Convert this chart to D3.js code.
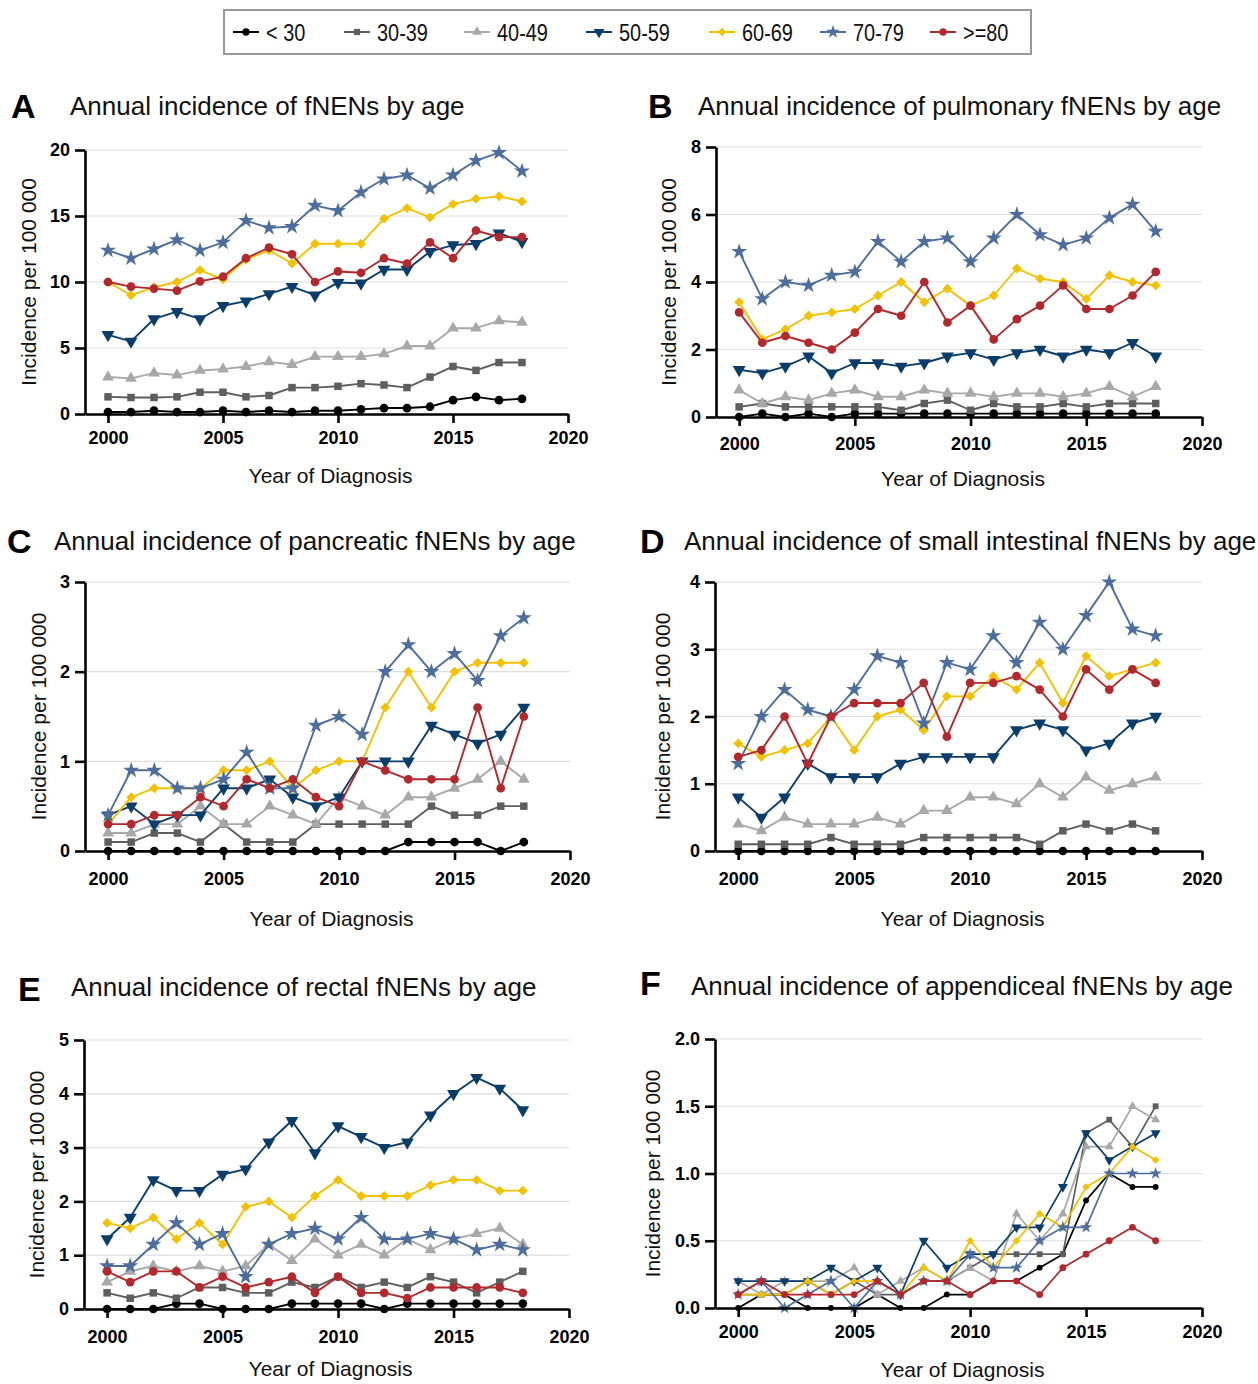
<!DOCTYPE html>
<html><head><meta charset="utf-8">
<script src="https://cdn.jsdelivr.net/npm/d3@7"></script>
<style>body{margin:0;background:#fff} svg{display:block;font-family:"Liberation Sans",Arial,sans-serif}</style>
</head><body>
<svg id="c" width="1258" height="1384"></svg>
<script>
// ---------- data ----------
const years = [2000,2001,2002,2003,2004,2005,2006,2007,2008,2009,2010,2011,2012,2013,2014,2015,2016,2017,2018];
const groups = ["< 30","30-39","40-49","50-59","60-69","70-79",">=80"];
const xTicks = [2000,2005,2010,2015,2020];

// Panel A: all fNENs
const valuesA = [
  [0.15,0.15,0.25,0.15,0.15,0.25,0.15,0.25,0.15,0.25,0.25,0.35,0.45,0.45,0.55,1.05,1.3,1.05,1.15],
  [1.3,1.25,1.25,1.3,1.65,1.65,1.3,1.4,2.0,2.0,2.1,2.3,2.2,2.0,2.8,3.6,3.3,3.9,3.9],
  [2.8,2.7,3.1,2.95,3.3,3.4,3.6,3.95,3.75,4.35,4.35,4.35,4.55,5.15,5.15,6.5,6.5,7.05,6.95],
  [6.0,5.5,7.2,7.75,7.2,8.2,8.55,9.1,9.65,9.0,9.95,9.9,10.95,10.95,12.3,12.8,12.9,13.7,13.05],
  [10.0,9.0,9.6,10.0,10.9,10.2,11.7,12.4,11.4,12.9,12.9,12.9,14.8,15.6,14.9,15.9,16.3,16.5,16.1],
  [12.4,11.8,12.5,13.2,12.4,13.0,14.65,14.1,14.2,15.8,15.4,16.8,17.8,18.1,17.1,18.1,19.2,19.8,18.4],
  [10.0,9.65,9.5,9.35,10.05,10.4,11.8,12.6,12.1,10.0,10.8,10.7,11.8,11.4,13.0,11.8,13.9,13.4,13.4]
];
// Panel B: pulmonary
const valuesB = [
  [0,0.1,0,0.1,0,0.1,0.1,0.1,0.1,0.1,0.1,0.1,0.1,0.1,0.1,0.1,0.1,0.1,0.1],
  [0.3,0.4,0.3,0.3,0.3,0.3,0.3,0.2,0.4,0.5,0.2,0.4,0.3,0.3,0.4,0.3,0.4,0.4,0.4],
  [0.8,0.4,0.6,0.5,0.7,0.8,0.6,0.6,0.8,0.7,0.7,0.6,0.7,0.7,0.6,0.7,0.9,0.6,0.9],
  [1.4,1.3,1.5,1.8,1.3,1.6,1.6,1.5,1.6,1.8,1.9,1.7,1.9,2.0,1.8,2.0,1.9,2.2,1.8],
  [3.4,2.3,2.6,3.0,3.1,3.2,3.6,4.0,3.4,3.8,3.3,3.6,4.4,4.1,4.0,3.5,4.2,4.0,3.9],
  [4.9,3.5,4.0,3.9,4.2,4.3,5.2,4.6,5.2,5.3,4.6,5.3,6.0,5.4,5.1,5.3,5.9,6.3,5.5],
  [3.1,2.2,2.4,2.2,2.0,2.5,3.2,3.0,4.0,2.8,3.3,2.3,2.9,3.3,3.9,3.2,3.2,3.6,4.3]
];
// Panel C: pancreatic
const valuesC = [
  [0,0,0,0,0,0,0,0,0,0,0,0,0,0.1,0.1,0.1,0.1,0,0.1],
  [0.1,0.1,0.2,0.2,0.1,0.3,0.1,0.1,0.1,0.3,0.3,0.3,0.3,0.3,0.5,0.4,0.4,0.5,0.5],
  [0.2,0.2,0.3,0.3,0.5,0.3,0.3,0.5,0.4,0.3,0.6,0.5,0.4,0.6,0.6,0.7,0.8,1.0,0.8],
  [0.4,0.5,0.3,0.4,0.4,0.7,0.7,0.8,0.6,0.5,0.6,1.0,1.0,1.0,1.4,1.3,1.2,1.3,1.6],
  [0.3,0.6,0.7,0.7,0.7,0.9,0.9,1.0,0.7,0.9,1.0,1.0,1.6,2.0,1.6,2.0,2.1,2.1,2.1],
  [0.4,0.9,0.9,0.7,0.7,0.8,1.1,0.7,0.7,1.4,1.5,1.3,2.0,2.3,2.0,2.2,1.9,2.4,2.6],
  [0.3,0.3,0.4,0.4,0.6,0.5,0.8,0.7,0.8,0.6,0.5,1.0,0.9,0.8,0.8,0.8,1.6,0.7,1.5]
];
// Panel D: small intestinal
const valuesD = [
  [0,0,0,0,0,0,0,0,0,0,0,0,0,0,0,0,0,0,0],
  [0.1,0.1,0.1,0.1,0.2,0.1,0.1,0.1,0.2,0.2,0.2,0.2,0.2,0.1,0.3,0.4,0.3,0.4,0.3],
  [0.4,0.3,0.5,0.4,0.4,0.4,0.5,0.4,0.6,0.6,0.8,0.8,0.7,1.0,0.8,1.1,0.9,1.0,1.1],
  [0.8,0.5,0.8,1.3,1.1,1.1,1.1,1.3,1.4,1.4,1.4,1.4,1.8,1.9,1.8,1.5,1.6,1.9,2.0],
  [1.6,1.4,1.5,1.6,2.0,1.5,2.0,2.1,1.8,2.3,2.3,2.6,2.4,2.8,2.2,2.9,2.6,2.7,2.8],
  [1.3,2.0,2.4,2.1,2.0,2.4,2.9,2.8,1.9,2.8,2.7,3.2,2.8,3.4,3.0,3.5,4.0,3.3,3.2],
  [1.4,1.5,2.0,1.3,2.0,2.2,2.2,2.2,2.5,1.7,2.5,2.5,2.6,2.4,2.0,2.7,2.4,2.7,2.5]
];
// Panel E: rectal
const valuesE = [
  [0,0,0,0.1,0.1,0,0,0,0.1,0.1,0.1,0.1,0,0.1,0.1,0.1,0.1,0.1,0.1],
  [0.3,0.2,0.3,0.2,0.4,0.4,0.3,0.3,0.5,0.4,0.6,0.4,0.5,0.4,0.6,0.5,0.3,0.5,0.7],
  [0.5,0.7,0.8,0.7,0.8,0.7,0.8,1.2,0.9,1.3,1.0,1.2,1.0,1.3,1.1,1.3,1.4,1.5,1.2],
  [1.3,1.7,2.4,2.2,2.2,2.5,2.6,3.1,3.5,2.9,3.4,3.2,3.0,3.1,3.6,4.0,4.3,4.1,3.7],
  [1.6,1.5,1.7,1.3,1.6,1.2,1.9,2.0,1.7,2.1,2.4,2.1,2.1,2.1,2.3,2.4,2.4,2.2,2.2],
  [0.8,0.8,1.2,1.6,1.2,1.4,0.6,1.2,1.4,1.5,1.3,1.7,1.3,1.3,1.4,1.3,1.1,1.2,1.1],
  [0.7,0.5,0.7,0.7,0.4,0.6,0.4,0.5,0.6,0.3,0.6,0.3,0.3,0.2,0.4,0.4,0.4,0.4,0.3]
];
// Panel F: appendiceal
const valuesF = [
  [0,0.1,0.1,0,0,0,0.1,0,0,0.1,0.1,0.2,0.2,0.3,0.4,0.8,1.0,0.9,0.9],
  [0.1,0.1,0.1,0.2,0.1,0.2,0.1,0.1,0.2,0.2,0.3,0.4,0.4,0.4,0.4,1.3,1.4,1.2,1.5],
  [0.2,0.1,0.2,0.2,0.2,0.3,0.1,0.2,0.3,0.2,0.3,0.2,0.7,0.5,0.7,1.2,1.2,1.5,1.4],
  [0.2,0.2,0.2,0.2,0.3,0.2,0.3,0.1,0.5,0.3,0.4,0.4,0.6,0.6,0.9,1.3,1.1,1.2,1.3],
  [0.1,0.1,0.1,0.2,0.1,0.2,0.2,0.1,0.3,0.2,0.5,0.3,0.5,0.7,0.6,0.9,1.0,1.2,1.1],
  [0.1,0.2,0,0.1,0.2,0,0.2,0.1,0.2,0.2,0.4,0.3,0.3,0.5,0.6,0.6,1.0,1.0,1.0],
  [0.1,0.2,0.1,0.1,0.1,0.1,0.2,0.1,0.2,0.2,0.1,0.2,0.2,0.1,0.3,0.4,0.5,0.6,0.5]
];

const yTicksA = [0,5,10,15,20];
const yTicksB = [0,2,4,6,8];
const yTicksC = [0,1,2,3];
const yTicksD = [0,1,2,3,4];
const yTicksE = [0,1,2,3,4,5];
const yTicksF = [0,0.5,1.0,1.5,2.0];

const titles = [
  "Annual incidence of fNENs by age",
  "Annual incidence of pulmonary fNENs by age",
  "Annual incidence of pancreatic fNENs by age",
  "Annual incidence of small intestinal fNENs by age",
  "Annual incidence of rectal fNENs by age",
  "Annual incidence of appendiceal fNENs by age"
];
const letters = ["A","B","C","D","E","F"];
const yTitle = "Incidence per 100 000";
const xTitle = "Year of Diagnosis";

// ---------- styles ----------
const colors = ["#000000","#5e5e5e","#a8a8a8","#0b3d6b","#f2c100","#4d6d9c","#b3282c"];
const symbols = [d3.symbolCircle,d3.symbolSquare,d3.symbolTriangle,d3.symbolTriangle,d3.symbolDiamond2,d3.symbolStar,d3.symbolCircle];
const rot = [0,0,0,180,0,0,0];
const symSize = [60,56,60,72,62,80,60];

const panels = [
  {vals:valuesA, ticks:yTicksA, fmt:d3.format("d"), x0:85,  x1:568,  y0:414,  y1:150,  lx:11,  ly:118, tx:70,  ty:115, ytx:29,  xty:483, pad:8.7, sc:1},
  {vals:valuesB, ticks:yTicksB, fmt:d3.format("d"), x0:716, x1:1202, y0:417,  y1:147,  lx:648, ly:118, tx:698, ty:115, ytx:669, xty:486, pad:11.7, sc:1},
  {vals:valuesC, ticks:yTicksC, fmt:d3.format("d"), x0:85,  x1:570,  y0:851,  y1:582,  lx:7,   ly:553, tx:54,  ty:550, ytx:39,  xty:926, pad:12.7, sc:1},
  {vals:valuesD, ticks:yTicksD, fmt:d3.format("d"), x0:715, x1:1202, y0:851,  y1:582,  lx:640, ly:553, tx:684, ty:550, ytx:663, xty:926, pad:12.7, sc:1},
  {vals:valuesE, ticks:yTicksE, fmt:d3.format("d"), x0:84,  x1:569,  y0:1309, y1:1040, lx:18,  ly:1001,tx:71,  ty:996, ytx:37,  xty:1376, pad:12.7, sc:1},
  {vals:valuesF, ticks:yTicksF, fmt:d3.format(".1f"), x0:715, x1:1202, y0:1308, y1:1039, lx:640, ly:995, tx:691, ty:995, ytx:653, xty:1377, pad:8.7, sc:0.6}
];

const svg = d3.select("#c");

// ---------- legend ----------
const leg = svg.append("g");
leg.append("rect").attr("x",224).attr("y",10).attr("width",807).attr("height",44)
   .attr("fill","#fff").attr("stroke","#9a9a9a").attr("stroke-width",2);
const legX = [233,344,464,586,709,820,930];
groups.forEach((g,i)=>{
  const gx = legX[i];
  leg.append("line").attr("x1",gx).attr("x2",gx+26).attr("y1",32).attr("y2",32)
     .attr("stroke",colors[i]).attr("stroke-width",2);
  leg.append("path").attr("d",d3.symbol(symbols[i], symSize[i]*0.7)())
     .attr("transform",`translate(${gx+13},32) rotate(${rot[i]})`).attr("fill",colors[i]);
  leg.append("text").attr("transform",`translate(${gx+33},41) scale(0.83,1)`)
     .attr("font-size",24).attr("fill","#111").text(g);
});

// ---------- panels ----------
panels.forEach((p,pi)=>{
  const x = d3.scaleLinear().domain([1999,2020]).range([p.x0,p.x1]);
  const ymax = p.ticks[p.ticks.length-1];
  const y = d3.scaleLinear().domain([0,ymax]).range([p.y0,p.y1]);
  const g = svg.append("g");

  // gridlines
  g.selectAll("line.grid").data(p.ticks.filter(t=>t>0)).join("line")
    .attr("x1",p.x0).attr("x2",p.x1).attr("y1",d=>y(d)).attr("y2",d=>y(d))
    .attr("stroke","#dedede").attr("stroke-width",1.2);

  // series
  const line = d3.line().x((d,i)=>x(years[i])).y(d=>y(d));
  p.vals.forEach((vals,si)=>{
    g.append("path").datum(vals).attr("d",line).attr("fill","none")
      .attr("stroke",colors[si]).attr("stroke-width",p.sc<1?1.7:1.9).attr("stroke-linejoin","round");
    const sz = symSize[si]*p.sc*(pi===5 && si===0 ? 0.75 : 1);
    g.selectAll(null).data(vals).join("path")
      .attr("d",d3.symbol(symbols[si], sz)())
      .attr("transform",(d,i)=>`translate(${x(years[i])},${y(d)}) rotate(${rot[si]})`)
      .attr("fill",colors[si]);
  });

  // axes
  const yAxis = d3.axisLeft(y).tickValues(p.ticks).tickFormat(p.fmt).tickSize(10).tickSizeOuter(0).tickPadding(5);
  const ya = g.append("g").attr("transform",`translate(${p.x0},0)`).call(yAxis);
  const xAxis = d3.axisBottom(x).tickValues(xTicks).tickFormat(d3.format("d")).tickSize(9).tickSizeOuter(0).tickPadding(p.pad);
  const xa = g.append("g").attr("transform",`translate(0,${p.y0})`).call(xAxis);
  [ya,xa].forEach(a=>{
    a.select(".domain").attr("stroke","#000").attr("stroke-width",2.6);
    a.selectAll(".tick line").attr("stroke","#000").attr("stroke-width",2.6);
    a.selectAll(".tick text").attr("font-family","'Liberation Sans',Arial,sans-serif")
      .attr("font-size",18).attr("font-weight","bold").attr("fill","#000");
  });

  // titles
  g.append("text").attr("x",p.lx).attr("y",p.ly).attr("font-size",34).attr("font-weight","bold")
    .attr("fill","#000").text(letters[pi]);
  g.append("text").attr("x",p.tx).attr("y",p.ty).attr("font-size",26).attr("fill","#111").text(titles[pi]);
  g.append("text").attr("transform",`translate(${p.ytx},${(p.y0+p.y1)/2}) rotate(-90)`)
    .attr("text-anchor","middle").attr("dy","0.35em").attr("font-size",21).attr("fill","#111").text(yTitle);
  g.append("text").attr("x",(p.x0+p.x1)/2 + 4).attr("y",p.xty).attr("text-anchor","middle")
    .attr("font-size",21).attr("fill","#111").text(xTitle);
});
</script>
</body></html>
